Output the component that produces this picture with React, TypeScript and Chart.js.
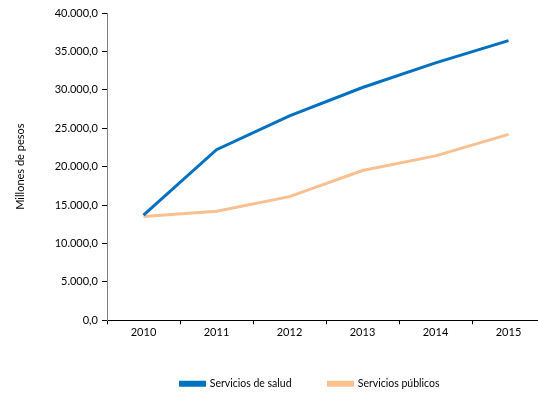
import React, { useEffect, useRef } from "react";
import { Chart, registerables } from "chart.js";

Chart.register(...registerables);

const years = ["2010", "2011", "2012", "2013", "2014", "2015"];
const salud = [13700, 22200, 26600, 30300, 33500, 36400];
const publicos = [13500, 14200, 16100, 19500, 21400, 24200];

function fmt(v: number): string {
  const fixed = v.toFixed(1);
  const [intPart, dec] = fixed.split(".");
  const withDots = intPart.replace(/\B(?=(\d{3})+(?!\d))/g, ".");
  return withDots + "," + dec;
}

export default function App() {
  const ref = useRef<HTMLCanvasElement | null>(null);
  useEffect(() => {
    if (!ref.current) return;
    const fam = "Lato, 'Open Sans', sans-serif";
    const font = { family: fam, size: 11 };
    const chart = new Chart(ref.current, {
      type: "line",
      data: {
        labels: years,
        datasets: [
          {
            label: "Servicios de salud",
            data: salud,
            borderColor: "#0070C0",
            backgroundColor: "#0070C0",
            borderWidth: 3,
            pointRadius: 0,
            tension: 0,
          },
          {
            label: "Servicios públicos",
            data: publicos,
            borderColor: "#FAC090",
            backgroundColor: "#FAC090",
            borderWidth: 3,
            pointRadius: 0,
            tension: 0,
          },
        ],
      },
      options: {
        animation: false,
        responsive: true,
        maintainAspectRatio: false,
        layout: { padding: { top: 13, left: 14, right: 0, bottom: 0 } },
        plugins: {
          tooltip: { enabled: false },
          legend: {
            position: "bottom",
            labels: {
              font: { family: fam, size: 10.5 },
              color: "#000",
              boxWidth: 24,
              boxHeight: 3,
              padding: 37,
            },
          },
        },
        scales: {
          x: {
            offset: true,
            grid: {
              display: true,
              offset: true,
              drawOnChartArea: false,
              drawTicks: true,
              tickLength: 4,
              color: "#000",
            },
            border: { display: true, color: "#000", width: 1 },
            ticks: { font, color: "#000", padding: 2 },
          },
          y: {
            min: 0,
            max: 40000,
            afterFit: (s: any) => {
              s.width = 93;
            },
            ticks: {
              stepSize: 5000,
              font,
              color: "#000",
              padding: 4,
              callback: (v: any) => fmt(Number(v)),
            },
            grid: {
              display: true,
              drawOnChartArea: false,
              drawTicks: true,
              tickLength: 5,
              color: "#000",
            },
            border: { display: true, color: "#808080", width: 1 },
            title: {
              display: true,
              text: "Millones de pesos",
              font: { family: fam, size: 11 },
              color: "#000",
              padding: { top: 0, bottom: 0 },
            },
          },
          yRight: {
            position: "right",
            display: true,
            afterFit: (s: any) => {
              s.width = 61;
            },
            ticks: { display: false },
            grid: { display: false, drawTicks: false },
            border: { display: false },
          },
        },
      },
    });
    return () => chart.destroy();
  }, []);
  return (
    <div style={{ position: "fixed", left: 0, top: 0, width: 606, height: 399, background: "#fff" }}>
      <canvas ref={ref} />
    </div>
  );
}
